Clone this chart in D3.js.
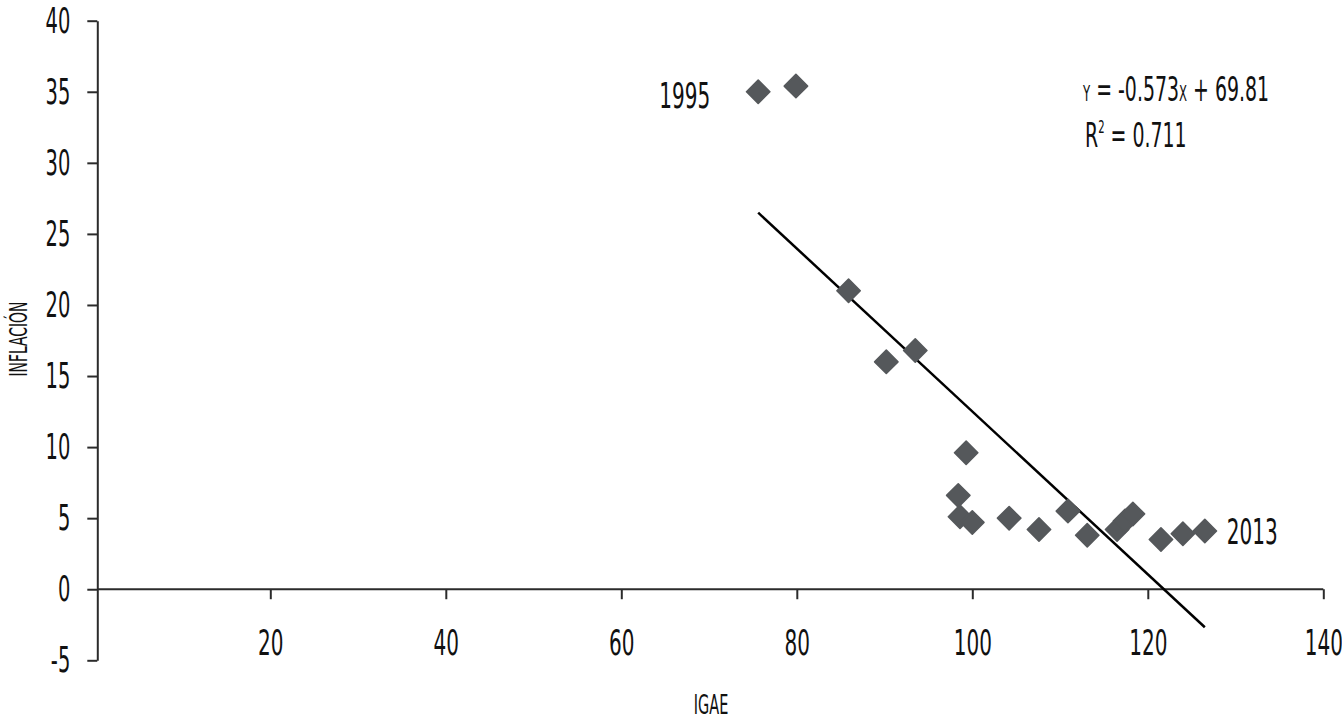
<!DOCTYPE html>
<html>
<head>
<meta charset="utf-8">
<script src="https://cdn.jsdelivr.net/npm/d3@7"></script>
<style>
  html, body { margin: 0; padding: 0; background: #fff; }
  svg { display: block; }
  text { font-family: "Liberation Sans Narrow", "DejaVu Sans Condensed", "Liberation Sans", sans-serif; fill: #111; }
</style>
</head>
<body>
<svg id="chart" width="1342" height="721"></svg>
<script>
// ---- data ----
const years = [1995,1996,1997,1998,1999,2000,2001,2002,2003,2004,2005,2006,2007,2008,2009,2010,2011,2012,2013];
const igae = [75.6, 79.9, 85.9, 90.2, 93.5, 99.3, 98.4, 98.6, 100.0, 104.2, 107.6, 110.9, 113.1, 116.5, 117.4, 118.3, 121.5, 124.0, 126.5];
const inflacion = [35.0, 35.4, 21.0, 16.0, 16.8, 9.6, 6.6, 5.1, 4.7, 5.0, 4.2, 5.5, 3.8, 4.2, 4.8, 5.3, 3.5, 3.9, 4.1];
const xTicks = [20, 40, 60, 80, 100, 120, 140];
const yTicks = [-5, 0, 5, 10, 15, 20, 25, 30, 35, 40];
const slope = -0.573, intercept = 69.81, r2 = 0.711;
const labelledYears = [1995, 2013];

// ---- layout ----
const svg = d3.select("#chart");
const x = d3.scaleLinear().domain([0, 140]).range([94.8, 1323.3]);
const y = d3.scaleLinear().domain([-5, 40]).range([660.3, 20.7]);
const axisColor = "#2b2b2b";
const yAxisX = x(0) + 2.5;
const FONT = '"Liberation Sans Narrow", "DejaVu Sans Condensed", "Liberation Sans", sans-serif';

// measure to compute horizontal condensing factor
const probe = svg.append("text").attr("font-size", 36).text("1995");
const sx = Math.min(1, 51 / probe.node().getComputedTextLength());
probe.remove();

function squeeze(sel) {
  sel.each(function () {
    const t = d3.select(this);
    const tx = +t.attr("x") || 0, ty = +t.attr("y") || 0;
    t.attr("x", 0).attr("y", 0).attr("transform", `translate(${tx},${ty}) scale(${sx},1)`);
  });
}
const fmt = d => String(d);

// ---- y axis ----
const yAxis = svg.append("g")
  .attr("transform", `translate(${yAxisX},0)`)
  .call(d3.axisLeft(y).tickValues(yTicks).tickSize(10).tickPadding(17).tickSizeOuter(0).tickFormat(fmt));
yAxis.select(".domain").attr("stroke", axisColor).attr("stroke-width", 2);
yAxis.selectAll(".tick line").attr("stroke", axisColor).attr("stroke-width", 2);
yAxis.selectAll(".tick text").attr("font-size", 35).attr("fill", "#111")
  .style("font-family", FONT).attr("dy", "0.33em");
squeeze(yAxis.selectAll(".tick text"));

// ---- x axis at y = 0 ----
const xAxis = svg.append("g")
  .attr("transform", `translate(0,${y(0)})`)
  .call(d3.axisBottom(x).tickValues(xTicks).tickSize(10).tickPadding(30).tickSizeOuter(0).tickFormat(fmt));
xAxis.select(".domain").attr("d", `M${yAxisX},0H${x(140)}`).attr("stroke", axisColor).attr("stroke-width", 2);
xAxis.selectAll(".tick line").attr("stroke", axisColor).attr("stroke-width", 2);
xAxis.selectAll(".tick text").attr("font-size", 36).attr("fill", "#111")
  .style("font-family", FONT);
squeeze(xAxis.selectAll(".tick text"));

// ---- axis titles ----
svg.append("text")
  .attr("transform", `translate(${x(70) + 2},714) scale(${sx},1)`)
  .attr("text-anchor", "middle").attr("font-size", 26).text("IGAE");
svg.append("text")
  .attr("transform", `translate(27,${y(17.6)}) rotate(-90) scale(${sx},1)`)
  .attr("text-anchor", "middle").attr("font-size", 25).text("INFLACIÓN");

// ---- regression line ----
const xMin = d3.min(igae), xMax = d3.max(igae);
svg.append("line")
  .attr("x1", x(xMin)).attr("y1", y(slope * xMin + intercept))
  .attr("x2", x(xMax)).attr("y2", y(slope * xMax + intercept))
  .attr("stroke", "#000").attr("stroke-width", 2.5);

// ---- points ----
const pts = years.map((yr, i) => ({ year: yr, x: igae[i], y: inflacion[i] }));
const diamond = d3.symbol().type(d3.symbolSquare).size(16.5 * 16.5);
svg.append("g").selectAll("path").data(pts).join("path")
  .attr("d", diamond)
  .attr("transform", d => `translate(${x(d.x)},${y(d.y)}) rotate(45)`)
  .attr("fill", "#55585b").attr("stroke", "#55585b").attr("stroke-width", 1.6).attr("stroke-linejoin", "round");

// ---- year labels ----
const lab = pts.filter(d => labelledYears.includes(d.year));
svg.append("g").selectAll("text").data(lab).join("text")
  .attr("transform", d => d.year === 1995
      ? `translate(${x(d.x) - 48},${y(d.y) + 16}) scale(${sx},1)`
      : `translate(${x(d.x) + 22},${y(d.y) + 13}) scale(${sx},1)`)
  .attr("text-anchor", d => d.year === 1995 ? "end" : "start")
  .attr("font-size", 36).text(d => d.year);

// ---- equation ----
const eq = svg.append("text")
  .attr("transform", `translate(1083,101) scale(${sx},1)`)
  .attr("font-size", 34);
eq.append("tspan").attr("font-size", 21).text("Y");
eq.append("tspan").text(" = " + slope.toFixed(3));
eq.append("tspan").attr("font-size", 21).text("X");
eq.append("tspan").text(" + " + intercept.toFixed(2));

const rt = svg.append("text")
  .attr("transform", `translate(1085,147) scale(${sx},1)`)
  .attr("font-size", 34);
rt.append("tspan").text("R");
rt.append("tspan").attr("font-size", 18).attr("dy", -14).text("2");
rt.append("tspan").attr("dy", 14).text(" = " + r2.toFixed(3));
</script>
</body>
</html>
